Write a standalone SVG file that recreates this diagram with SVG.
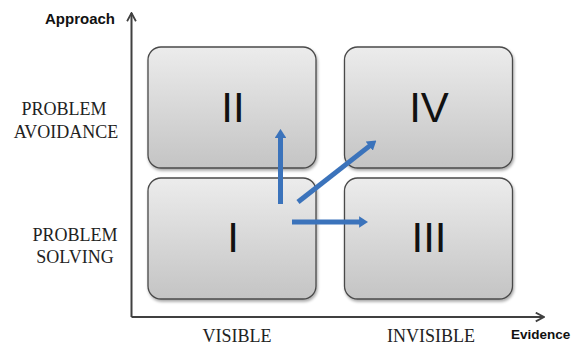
<svg xmlns="http://www.w3.org/2000/svg" width="573" height="345" viewBox="0 0 573 345">
<style>
.box{fill:url(#g);stroke:#4a4a4a;stroke-width:1.3;filter:url(#sh)}
.num{font-family:"Liberation Sans",Arial,sans-serif;font-size:42px;fill:#111;text-anchor:middle}
.lab{font-family:"Liberation Serif","Times New Roman",serif;font-size:18px;fill:#222;text-anchor:middle}
.ax{font-family:"Liberation Sans",Arial,sans-serif;font-weight:bold;fill:#111}
.axis{stroke:#404040;stroke-width:2;fill:none}
.blue{stroke:#3b73bb;stroke-width:5;fill:none}
</style>
<defs>
<linearGradient id="g" x1="0" y1="0" x2="0" y2="1">
<stop offset="0" stop-color="#ececec"/>
<stop offset="1" stop-color="#c4c4c4"/>
</linearGradient>
<filter id="sh" x="-10%" y="-10%" width="120%" height="130%">
<feGaussianBlur in="SourceAlpha" stdDeviation="1.5"/>
<feOffset dx="0.5" dy="1.5" result="b"/>
<feComponentTransfer><feFuncA type="linear" slope="0.35"/></feComponentTransfer>
<feMerge><feMergeNode/><feMergeNode in="SourceGraphic"/></feMerge>
</filter>
<marker id="ah" viewBox="0 0 10 10" refX="1" refY="5" markerWidth="1.8" markerHeight="2.3" orient="auto" markerUnits="strokeWidth" preserveAspectRatio="none">
<path d="M0,0 L10,5 L0,10 Z" fill="#3b73bb"/>
</marker>
<marker id="ch" viewBox="0 0 10 10" refX="9" refY="5" markerWidth="5.5" markerHeight="5.5" orient="auto" markerUnits="strokeWidth">
<path d="M1.5,1 L9,5 L1.5,9" fill="none" stroke="#404040" stroke-width="1.6"/>
</marker>
</defs>
<rect width="573" height="345" fill="#fff"/>
<g id="axes">
<path class="axis" d="M131.5,317 V13" marker-end="url(#ch)"/>
<path class="axis" d="M131.5,317 H544" marker-end="url(#ch)"/>
<text class="ax" x="45" y="24" font-size="15">Approach</text>
<text class="ax" x="511" y="339" font-size="13.5">Evidence</text>
</g>
<g id="labels">
<text class="lab" x="64" y="115">PROBLEM</text>
<text class="lab" x="66" y="138">AVOIDANCE</text>
<text class="lab" x="75" y="241">PROBLEM</text>
<text class="lab" x="75" y="263">SOLVING</text>
<text class="lab" x="237" y="342">VISIBLE</text>
<text class="lab" x="431" y="342">INVISIBLE</text>
</g>
<g id="node-II">
<rect class="box" x="148" y="47" width="168" height="121" rx="13"/>
<text class="num" x="233" y="122">II</text>
</g>
<g id="node-IV">
<rect class="box" x="344.5" y="47" width="168" height="121" rx="13"/>
<text class="num" x="429" y="122">IV</text>
</g>
<g id="node-I">
<rect class="box" x="148" y="178" width="168" height="121" rx="13"/>
<text class="num" x="233" y="252">I</text>
</g>
<g id="node-III">
<rect class="box" x="344.5" y="178" width="168" height="121" rx="13"/>
<text class="num" x="429" y="252">III</text>
</g>
<g id="connectors">
<path class="blue" d="M280.5,204 V137" marker-end="url(#ah)"/>
<path class="blue" d="M298,202 L370,145.6" marker-end="url(#ah)"/>
<path class="blue" d="M292,222 H360" marker-end="url(#ah)"/>
</g>
</svg>
